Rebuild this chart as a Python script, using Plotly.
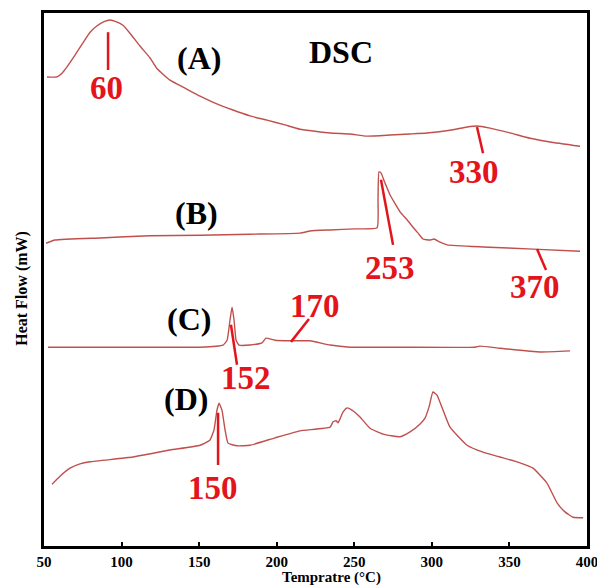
import plotly.graph_objects as go

# ---- data (temperature in °C, heat flow in arbitrary offset units) ----
a_temp = [51.9, 58.4, 61.6, 64.8, 70.0, 75.1, 79.7, 84.2, 88.7, 92.5, 96.4, 100.9, 105.4, 111.9,
          118.3, 122.8, 131.2, 140.9, 150.6, 160.2, 171.8, 182.8, 193.7, 205.3, 215.0, 234.4,
          247.2, 258.2, 273.0, 285.9, 296.9, 311.7, 322.7, 329.1, 337.5, 350.4, 363.3, 376.2, 395.5]
a_flow = [88.0, 88.0, 88.7, 89.9, 92.1, 94.4, 96.4, 97.6, 98.4, 98.7, 98.4, 97.7, 96.2, 93.8,
          91.6, 89.6, 87.4, 85.9, 84.4, 83.1, 81.8, 80.7, 79.9, 79.0, 78.2, 77.5,
          77.3, 76.9, 77.1, 77.3, 77.5, 78.0, 78.6, 78.8, 78.4, 77.5, 76.5, 75.8, 75.0]

b_temp = [51.3, 57.1, 86.1, 118.3, 150.6, 182.8, 215.0, 221.5, 234.4, 250.5, 264.7, 265.3, 265.9,
          267.2, 269.8, 273.0, 279.5, 284.0, 287.9, 291.1, 294.3, 298.8, 301.4, 305.3, 309.8,
          333.0, 365.2, 395.5]
b_flow = [56.8, 57.4, 57.8, 58.2, 58.3, 58.5, 58.7, 59.1, 59.3, 59.5, 59.7, 65.0, 70.2,
          70.0, 68.1, 65.9, 62.7, 61.2, 59.8, 58.7, 57.6, 57.4, 57.6, 57.0, 56.5,
          56.1, 55.7, 55.3]

c_temp = [52.6, 86.1, 118.3, 150.6, 165.4, 168.0, 169.9, 171.2, 172.5, 173.8, 175.7, 182.8, 190.5,
          193.1, 198.9, 208.6, 221.5, 234.4, 247.2, 279.5, 327.8, 331.0, 343.9, 369.7, 389.1]
c_flow = [37.3, 37.3, 37.3, 37.3, 37.7, 38.6, 42.4, 44.8, 42.4, 38.6, 37.7, 37.7, 38.1,
          39.0, 38.6, 38.5, 38.5, 37.7, 37.3, 37.3, 37.3, 37.5, 37.1, 36.4, 36.6]

d_temp = [55.2, 60.3, 66.8, 73.2, 79.7, 107.4, 131.2, 150.6, 157.0, 159.6, 161.5, 162.8, 164.7,
          166.7, 168.6, 174.4, 182.8, 198.9, 215.0, 234.4, 236.3, 238.3, 239.5, 242.7, 245.3,
          248.5, 253.7, 260.1, 268.5, 279.5, 285.9, 292.4, 295.6, 298.2, 300.7, 303.3, 307.2,
          311.7, 322.7, 333.0, 343.9, 356.8, 365.2, 374.2, 380.7, 385.8, 391.0, 397.5]
d_flow = [11.6, 13.1, 14.6, 15.4, 15.8, 16.7, 18.0, 18.9, 19.9, 21.8, 25.5, 26.8, 25.5,
          21.8, 19.3, 18.8, 18.9, 20.3, 21.6, 22.3, 23.3, 23.5, 23.1, 25.1, 25.9,
          25.5, 24.2, 22.1, 21.0, 20.5, 21.4, 22.9, 24.0, 26.1, 28.9, 28.3, 25.5,
          22.3, 18.9, 17.6, 16.7, 15.6, 14.6, 11.8, 8.1, 6.4, 5.4, 5.3]

x_ticks = [50, 100, 150, 200, 250, 300, 350, 400]
peak_labels = ["60", "330", "253", "370", "152", "170", "150"]
curve_labels = ["(A)", "(B)", "(C)", "(D)"]
x_title = "Tempratre (°C)"
y_title = "Heat Flow (mW)"

CURVE = "#c0504d"
RED = "#e3141b"
FONT = "Liberation Serif, Times New Roman, serif"

fig = go.Figure()
for xs, ys in [(a_temp, a_flow), (b_temp, b_flow), (c_temp, c_flow), (d_temp, d_flow)]:
    fig.add_trace(go.Scatter(x=xs, y=ys, mode="lines",
                             line=dict(color=CURVE, width=1.4, shape="spline", smoothing=0.4),
                             showlegend=False, hoverinfo="skip"))

# peak annotation placement: (label x, label y, line x0, y0, x1, y1)
peak_pos = [
    (90.6, 85.9, 91.3, 96.4, 91.3, 89.3),
    (327.2, 70.2, 329.1, 78.6, 333.0, 73.7),
    (273.0, 52.2, 267.2, 68.7, 275.0, 56.5),
    (366.5, 48.6, 367.8, 55.7, 373.6, 51.8),
    (180.2, 31.5, 170.5, 41.5, 174.4, 34.0),
    (224.7, 45.0, 209.2, 38.3, 220.8, 42.6),
    (158.9, 10.9, 162.2, 25.0, 162.2, 15.2),
]
for lab, (lx, ly, x0, y0, x1, y1) in zip(peak_labels, peak_pos):
    fig.add_shape(type="line", x0=x0, y0=y0, x1=x1, y1=y1, xref="x", yref="y",
                  line=dict(color=RED, width=2.5))
    fig.add_annotation(x=lx, y=ly, text="<b>%s</b>" % lab, showarrow=False,
                       font=dict(family=FONT, size=33, color=RED))

curve_pos = [(149.9, 91.5), (148.6, 62.5), (143.5, 42.6), (141.5, 27.6)]
for lab, (lx, ly) in zip(curve_labels, curve_pos):
    fig.add_annotation(x=lx, y=ly, text="<b>%s</b>" % lab, showarrow=False,
                       font=dict(family=FONT, size=32, color="black"))
fig.add_annotation(x=241.4, y=92.7, text="<b>DSC</b>", showarrow=False,
                   font=dict(family=FONT, size=32, color="black"))

# axis titles
fig.add_annotation(x=235, y=-0.0585, xref="x", yref="paper", yanchor="middle",
                   xanchor="center", text="<b>%s</b>" % x_title, showarrow=False,
                   font=dict(family=FONT, size=15, color="black"))
fig.add_annotation(x=-0.041, y=0.484, xref="paper", yref="paper", textangle=-90,
                   xanchor="center", yanchor="middle",
                   text="<b>%s</b>" % y_title, showarrow=False,
                   font=dict(family=FONT, size=16, color="black"))

fig.update_layout(
    width=597, height=585,
    margin=dict(l=44, r=10, t=13, b=39),
    paper_bgcolor="white", plot_bgcolor="white",
    xaxis=dict(range=[50, 400], tickvals=x_ticks,
               ticktext=["<b>%d</b>" % v for v in x_ticks],
               showgrid=False, zeroline=False, showline=True, mirror=True,
               linecolor="black", linewidth=2.5, ticks="inside", ticklen=4,
               tickwidth=2, tickcolor="black", ticklabeloverflow="allow",
               tickfont=dict(family=FONT, size=15, color="black"),
               automargin=False),
    yaxis=dict(range=[0, 100], showticklabels=False, ticks="", showgrid=False,
               zeroline=False, showline=True, mirror=True, linecolor="black", linewidth=2.5,
               automargin=False),
)

fig.write_html("out.html")
